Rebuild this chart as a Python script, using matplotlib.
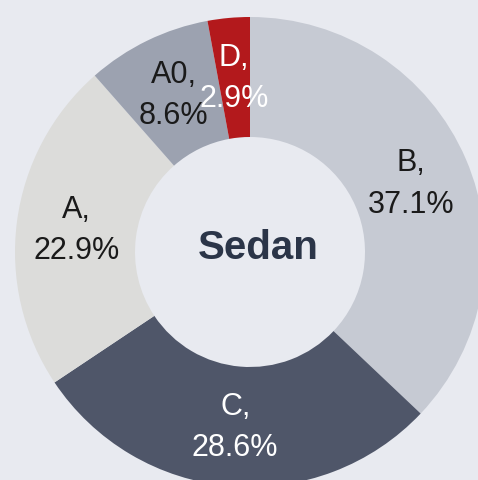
import matplotlib
matplotlib.use("Agg")
import matplotlib.pyplot as plt

categories = ["B", "C", "A", "A0", "D"]
shares = [37.1, 28.6, 22.9, 8.6, 2.9]
colors = ["#c6cad3", "#4f5669", "#dcdcda", "#9ca2b0", "#b3191c"]
label_colors = ["#1a1a1a", "#ffffff", "#1a1a1a", "#1a1a1a", "#ffffff"]
center_label = "Sedan"

bg = "#e8eaf0"
fig = plt.figure(figsize=(4.78, 4.81), dpi=100, facecolor=bg)
ax = fig.add_axes([0, 0, 1, 1])
ax.set_facecolor(bg)

R_px = 235.0
cx, cy = 250.0, 253.0
width_frac = 120.0 / R_px

labels = [f"{c},\n{v:.1f}%" for c, v in zip(categories, shares)]
wedges, texts = ax.pie(
    shares, labels=labels, colors=colors, startangle=90, counterclock=False,
    radius=1.0, labeldistance=1 - width_frac / 2,
    wedgeprops=dict(width=width_frac, edgecolor="none", linewidth=0),
    textprops=dict(fontsize=22, family=["Liberation Sans", "DejaVu Sans"]),
)
for t, col in zip(texts, label_colors):
    t.set_ha("center")
    t.set_va("center")
    t.set_color(col)
    t.set_linespacing(1.5)

ax.text(8 / R_px, 5 / R_px, center_label, ha="center", va="center", fontsize=29,
        fontweight="bold", color="#2b3548", family=["Liberation Sans", "DejaVu Sans"])

ax.set_xlim(-cx / R_px, (478 - cx) / R_px)
ax.set_ylim(-(481 - cy) / R_px, cy / R_px)
ax.set_aspect("auto")
ax.axis("off")

fig.savefig("out.png", dpi=100, facecolor=bg)
